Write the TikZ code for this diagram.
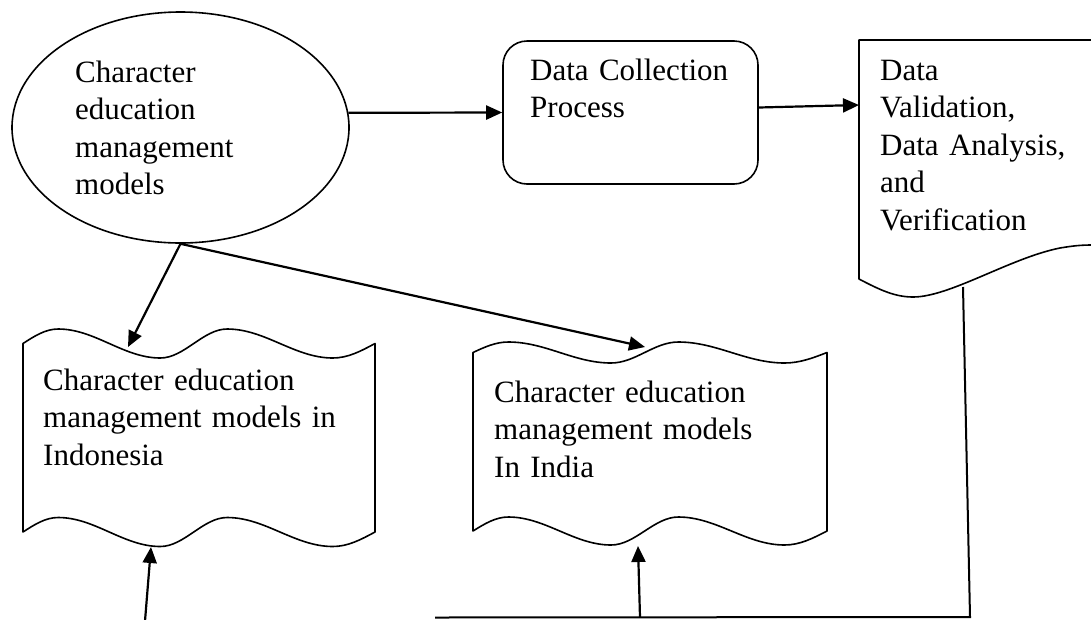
\documentclass[tikz,border=0pt]{standalone}
\usepackage{fontspec}
\setmainfont{Liberation Serif}
\usetikzlibrary{arrows.meta,shapes.geometric,calc}
\newcommand\wavedoc[6]{% x0, w, top mid, A, H, B
  \begin{scope}[shift={(#1,#3)},xscale=#2]
  \draw[shapeline] (0,0) .. controls (0.0334,{-0.525*#4}) and (0.064,{-#4}) .. (0.10,{-#4})
   .. controls (0.2044,{-#4}) and (0.2856,{#4}) .. (0.39,{#4})
   .. controls (0.4584,{#4}) and (0.5116,{-#4}) .. (0.58,{-#4})
   .. controls (0.688,{-#4}) and (0.772,{#4}) .. (0.88,{#4})
   .. controls (0.9232,{#4}) and (0.9599,{0.525*#4}) .. (1,0)
   -- (1,#5)
   .. controls (0.9599,{#5+0.525*#6}) and (0.9232,{#5+#6}) .. (0.88,{#5+#6})
   .. controls (0.772,{#5+#6}) and (0.688,{#5-#6}) .. (0.58,{#5-#6})
   .. controls (0.5116,{#5-#6}) and (0.4584,{#5+#6}) .. (0.39,{#5+#6})
   .. controls (0.2856,{#5+#6}) and (0.2044,{#5-#6}) .. (0.10,{#5-#6})
   .. controls (0.064,{#5-#6}) and (0.0334,{#5-0.525*#6}) .. (0,#5) -- cycle;
  \end{scope}}
\begin{document}
\begin{tikzpicture}[x=1pt,y=-1pt,
  shapeline/.style={line width=1.6pt,line join=round},
  arr/.style={line width=2.2pt,-{Triangle[length=16pt,width=14pt]}},
  conn/.style={line width=2pt},
  lbl/.style={anchor=base west,inner sep=0pt,align=left,text width=330pt,font=\fontsize{31}{37.5}\selectfont}]
\useasboundingbox (0,0) rectangle (1091,619);
\clip (0,0) rectangle (1091,619);
\fill[white] (0,0) rectangle (1091,619);
% shapes
\node[ellipse,draw,shapeline,minimum width=337pt,minimum height=231pt,inner sep=0pt] (cem) at (180.5,127.5) {};
\node[draw,shapeline,rounded corners=24pt,minimum width=255pt,minimum height=143pt,inner sep=0pt] (dcp) at (630.5,112.5) {};
\draw[shapeline] (859,279) -- (859,40) -- (1100,40) -- (1100,245) -- (1092,245)
  .. controls (1080,245) and (1072,246) .. (1060,248)
  .. controls (1010,258) and (950,297) .. (913,297)
  .. controls (895,297) and (880,290) .. (859,279) -- cycle;
\wavedoc{23}{352}{343.5}{14.5}{188.5}{14.5}
\wavedoc{473}{354}{352.5}{10.5}{178.5}{14}
% texts
\node[lbl] (cemtext) at (75,82) {Character\\education\\management\\models};
\node[lbl] (dcptext) at (530,80) {Data Collection\\Process};
\node[lbl] (dvtext) at (880,80) {Data\\Validation,\\Data Analysis,\\and\\Verification};
\node[lbl] (d1text) at (43,390) {Character education\\management models in\\Indonesia};
\node[lbl] (d2text) at (494,402) {Character education\\management models\\In India};
% connection points
\coordinate (d1in) at (128,347);
\coordinate (d2in) at (645,347);
\coordinate (d1bot) at (151,547);
\coordinate (d2bot) at (638,546);
\coordinate (d3w) at (859,105);
\coordinate (d3out) at (963,287);
\coordinate (corner) at (970,617);
\coordinate (lineend) at (435,617.5);
\coordinate (junc) at (640,617.3);
\coordinate (free1) at (145,621);
% connectors
\draw[arr] (cem.5) -- (dcp.west);
\draw[arr] ($(dcp.east)+(0,-5)$) -- (d3w);
\draw[arr] (cem.south) -- (d1in);
\draw[arr] (cem.south) -- (d2in);
\draw[conn] (d3out) -- (corner) -- (lineend);
\draw[arr] (junc) -- (d2bot);
\draw[arr] (free1) -- (d1bot);
\end{tikzpicture}
\end{document}
